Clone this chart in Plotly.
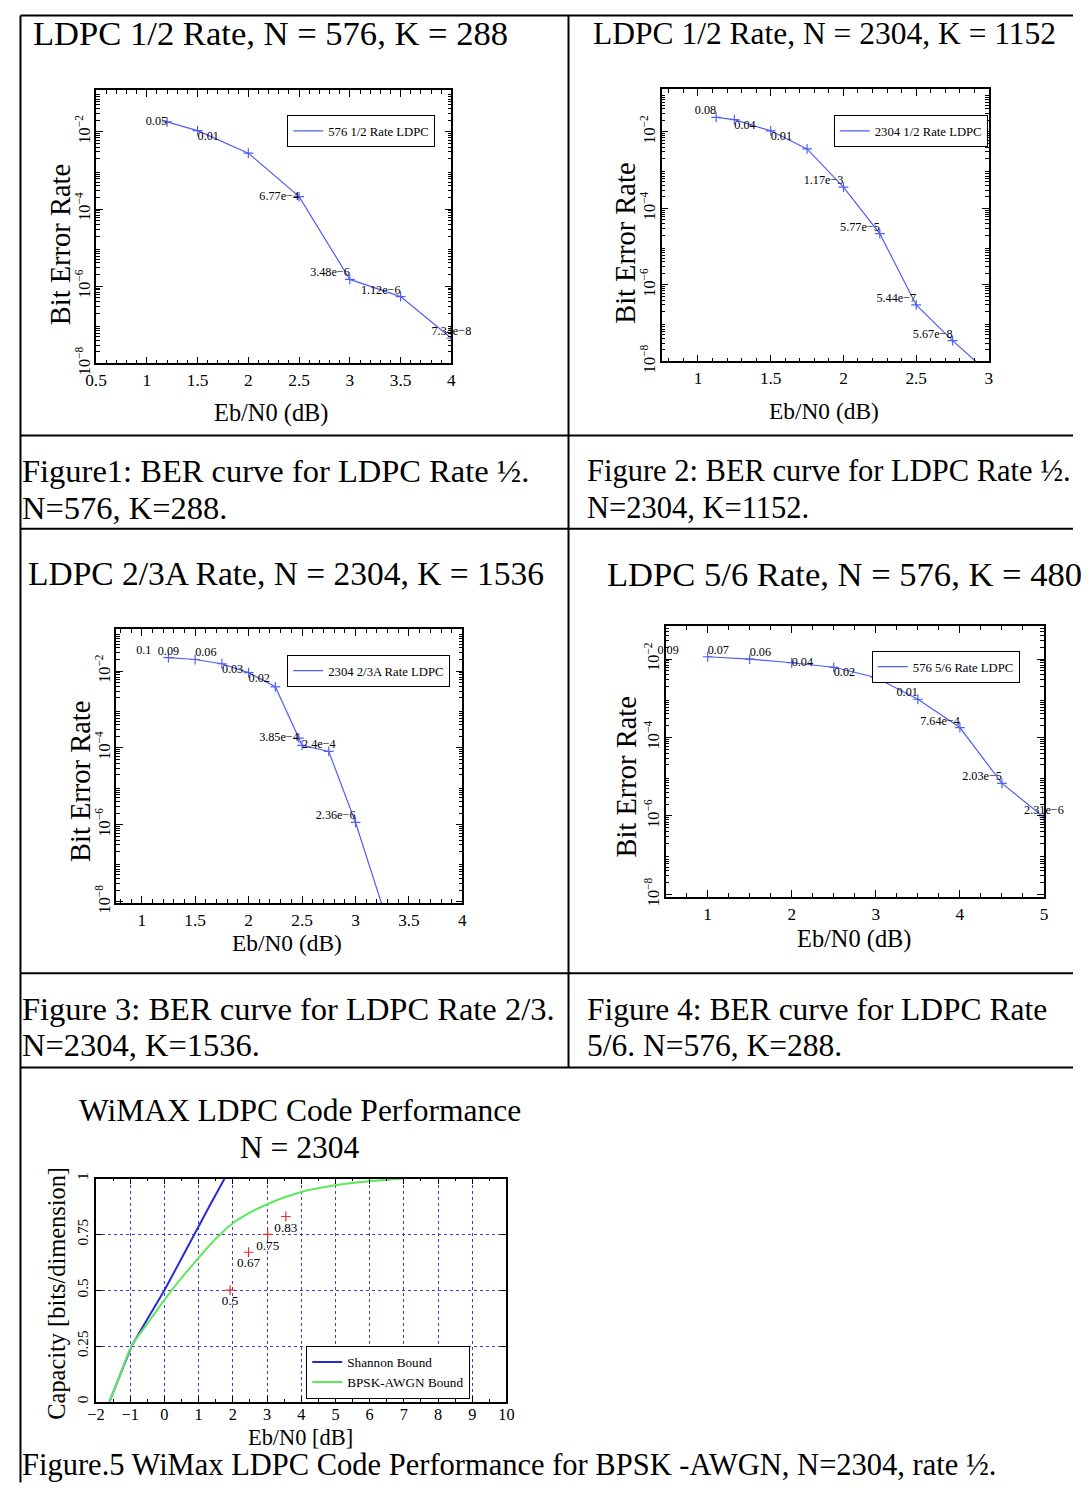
import plotly.graph_objects as go

W, H = 1089, 1504            # reference canvas (pixels)
FW, FH = 1073, 1488          # plotly figure size
# measured placement of the figure inside the photographed page
AX, SX = 19.05, 0.9813
AY, SY = 14.0, 0.9866
FS = 1.0 / ((SX + SY) / 2)   # font compensation
SERIF = "Liberation Serif, Times New Roman, serif"

# ---------------- data ----------------
# Figure 1: LDPC 1/2, N=576
f1_ebn0 = [1.2, 1.5, 2.0, 2.5, 3.0, 3.5, 4.0]
f1_ber = [1.8e-2, 1.07e-2, 2.8e-3, 2.1e-4, 1.5e-6, 5.4e-7, 4.5e-8]
f1_labels = ["0.05", "0.01", "", "6.77e−4", "3.48e−6", "1.12e−6", "7.34e−8"]

# Figure 2: LDPC 1/2, N=2304
f2_ebn0 = [1.125, 1.25, 1.5, 1.75, 2.0, 2.25, 2.5, 2.75, 3.0]
f2_ber = [2.4e-2, 2.1e-2, 1.07e-2, 3.6e-3, 3.6e-4, 2.2e-5, 3.0e-7, 3.5e-8, 5.0e-9]
f2_labels = ["0.08", "0.04", "0.01", "", "1.17e−3", "5.77e−5", "5.44e−7", "5.67e−8", ""]

# Figure 3: LDPC 2/3A, N=2304
f3_ebn0 = [1.25, 1.5, 1.75, 2.0, 2.25, 2.47, 2.5, 2.75, 3.0, 3.25]
f3_ber = [2.24e-2, 2.0e-2, 1.55e-2, 9.1e-3, 3.9e-3, 1.8e-4, 1.17e-4, 8.1e-5, 1.15e-6, 7.9e-9]
f3_labels = ["0.09", "0.06", "0.03", "0.02", "", "3.85e−4", "2.4e−4", "", "2.36e−6", ""]
f3_extra_x = [1.02]
f3_extra_y = [3.3e-2]
f3_extra_label = ["0.1"]

# Figure 4: LDPC 5/6, N=576
f4_ebn0 = [1.0, 1.5, 2.0, 2.5, 3.0, 3.5, 4.0, 4.5, 5.0]
f4_ber = [1.15e-2, 1.0e-2, 8.1e-3, 6.2e-3, 3.4e-3, 9.5e-4, 1.8e-4, 6.8e-6, 9.3e-7]
f4_labels = ["0.07", "0.06", "0.04", "0.02", "", "0.01", "7.64e−4", "2.03e−5", "2.31e−6"]
f4_extra_x = [0.53]
f4_extra_y = [1.6e-2]
f4_extra_label = ["0.09"]

# Figure 5: WiMAX capacity
shannon_ebn0 = [-1.61, -1.4, -1.2, -0.96, -0.48, 0.0, 0.44, 0.87, 1.31, 1.76]
shannon_cap = [0.0, 0.08, 0.16, 0.25, 0.375, 0.5, 0.625, 0.75, 0.875, 1.0]
bpsk_ebn0 = [-1.61, -1.3, -0.96, -0.5, 0.0, 0.5, 1.0, 1.5, 2.0, 3.0, 4.0, 5.0, 6.0, 7.0]
bpsk_cap = [0.0, 0.12, 0.25, 0.35, 0.457, 0.555, 0.645, 0.73, 0.80, 0.885, 0.94, 0.97, 0.988, 1.0]
rate_ebn0 = [1.92, 2.46, 3.02, 3.55]
rate_cap = [0.5, 0.67, 0.75, 0.83]
rate_labels = ["0.5", "0.67", "0.75", "0.83"]

log_tickvals = [1e-8, 1e-6, 1e-4, 1e-2]
log_ticktext = ["10<sup>−8</sup>", "10<sup>−6</sup>", "10<sup>−4</sup>", "10<sup>−2</sup>"]
cap_x_ticks = [-2, -1, 0, 1, 2, 3, 4, 5, 6, 7, 8, 9, 10]
cap_x_text = ["−2", "−1", "0", "1", "2", "3", "4", "5", "6", "7", "8", "9", "10"]
cap_y_ticks = [0, 0.25, 0.5, 0.75, 1]
cap_y_text = ["0", "0.25", "0.5", "0.75", "1"]

# ---------------- helpers (reference pixels -> paper) ----------------
EDGE_X = 1.5 / FW
EDGE_Y = 1.5 / FH

def px(x):
    return min(max(((x - AX) / SX) / FW, EDGE_X), 1.0)

def py(y):
    return min(max(1 - ((y - AY) / SY) / FH, EDGE_Y), 1.0 - EDGE_Y)

def dx(l, r):
    return [px(l), px(r)]

def dy(t, b):
    return [py(b), py(t)]

def fs(size):
    return round(size * FS, 1)

BER_COLOR = "#4f5ff5"
minor_log = [k * 10 ** n for n in range(-9, 0) for k in range(2, 10)]

fig = go.Figure()
annotations = []

def add_text(x, y, text, size, anchor="left", angle=0, yanchor="middle"):
    annotations.append(dict(
        x=px(x), y=py(y), xref="paper", yref="paper", text=text, showarrow=False,
        xanchor=anchor, yanchor=yanchor, textangle=angle,
        font=dict(family=SERIF, size=fs(size), color="black")))

panels = [
    dict(i=1, x=f1_ebn0, y=f1_ber, lab=f1_labels,
         pos=["middle left", "bottom right", "top left", "middle left", "top left", "top left", "top center"],
         name="576 1/2 Rate LDPC", box=(96, 451, 90, 363), xr=[0.5, 4], yr=[-8, -0.92],
         xt=[0.5, 1, 1.5, 2, 2.5, 3, 3.5, 4], xm=0.1, leg=(287, 131),
         xtitle=(271, 412, 24), ytitle=(60, 244, 28)),
    dict(i=2, x=f2_ebn0, y=f2_ber, lab=f2_labels,
         pos=["top left", "bottom right", "bottom right", "top left", "top left", "top left", "top left", "top left", "top left"],
         name="2304 1/2 Rate LDPC", box=(661, 988, 89, 361), xr=[0.75, 3], yr=[-8, -0.88],
         xt=[1, 1.5, 2, 2.5, 3], xm=0.1, leg=(833, 131),
         xtitle=(823, 410, 23), ytitle=(625, 243, 28)),
    dict(i=3, x=f3_ebn0, y=f3_ber, lab=f3_labels,
         pos=["top center", "top right", "bottom right", "bottom right", "top left", "middle left", "middle right", "top left", "top left", "top left"],
         name="2304 2/3A Rate LDPC", box=(116, 462, 628, 902), xr=[0.76, 4], yr=[-8.04, -0.9],
         xt=[1, 1.5, 2, 2.5, 3, 3.5, 4], xm=0.1, leg=(287, 670),
         ex=(f3_extra_x, f3_extra_y, f3_extra_label),
         xtitle=(287, 942, 23), ytitle=(80, 781, 28)),
    dict(i=4, x=f4_ebn0, y=f4_ber, lab=f4_labels,
         pos=["top right", "top right", "middle right", "bottom right", "top left", "top left", "top left", "top left", "top center"],
         name="576 5/6 Rate LDPC", box=(665, 1043, 625, 896), xr=[0.5, 5], yr=[-8.07, -1.15],
         xt=[1, 2, 3, 4, 5], xm=0.25, leg=(871, 666),
         ex=(f4_extra_x, f4_extra_y, f4_extra_label),
         xtitle=(854, 938, 24), ytitle=(625, 776, 28)),
]

layout_axes = {}
for p in panels:
    i = p["i"]
    xa = "x" if i == 1 else f"x{i}"
    ya = "y" if i == 1 else f"y{i}"
    lg = "legend" if i == 1 else f"legend{i}"
    fig.add_trace(go.Scatter(
        x=p["x"], y=p["y"], mode="lines", name=p["name"],
        line=dict(color=BER_COLOR, width=1.2),
        xaxis=xa, yaxis=ya, legend=lg, showlegend=True))
    fig.add_trace(go.Scatter(
        x=p["x"], y=p["y"], mode="markers", showlegend=False,
        marker=dict(symbol="cross-thin", size=7, line=dict(color=BER_COLOR, width=1.2)),
        xaxis=xa, yaxis=ya, hoverinfo="skip"))
    keep = [k for k, t in enumerate(p["lab"]) if t]
    fig.add_trace(go.Scatter(
        x=[p["x"][k] for k in keep], y=[p["y"][k] for k in keep],
        mode="text", text=[p["lab"][k] for k in keep],
        textposition=[p["pos"][k] for k in keep],
        textfont=dict(family=SERIF, size=fs(12), color="black"),
        xaxis=xa, yaxis=ya, showlegend=False, cliponaxis=False, hoverinfo="skip"))
    if "ex" in p:
        ex_x, ex_y, ex_l = p["ex"]
        fig.add_trace(go.Scatter(
            x=ex_x, y=ex_y, mode="text", text=ex_l, textposition="middle center",
            textfont=dict(family=SERIF, size=fs(12), color="black"),
            xaxis=xa, yaxis=ya, showlegend=False, cliponaxis=False, hoverinfo="skip"))
    l, r, t, b = p["box"]
    xkey = "xaxis" if i == 1 else f"xaxis{i}"
    ykey = "yaxis" if i == 1 else f"yaxis{i}"
    layout_axes[xkey] = dict(
        domain=dx(l, r), anchor=ya, range=p["xr"], tickmode="array", tickvals=p["xt"],
        ticks="inside", ticklen=7, tickwidth=1, tickcolor="black",
        minor=dict(ticks="inside", ticklen=4, dtick=p["xm"], tickcolor="black"),
        showline=True, linecolor="black", linewidth=1.5, mirror="ticks",
        showgrid=False, zeroline=False,
        tickfont=dict(family=SERIF, size=fs(17), color="black"))
    layout_axes[ykey] = dict(
        domain=dy(t, b), anchor=xa, type="log", range=p["yr"], tickmode="array",
        tickvals=log_tickvals, ticktext=log_ticktext, tickangle=-90,
        ticks="inside", ticklen=7, tickwidth=1, tickcolor="black",
        minor=dict(ticks="inside", ticklen=4, tickvals=minor_log, tickcolor="black"),
        showline=True, linecolor="black", linewidth=1.5, mirror="ticks",
        showgrid=False, zeroline=False, ticklabelstandoff=-2,
        tickfont=dict(family=SERIF, size=fs(16), color="black"))
    lx, ly = p["leg"]
    layout_axes[lg] = dict(
        x=px(lx), y=py(ly), xanchor="left", yanchor="middle",
        bgcolor="white", bordercolor="black", borderwidth=1,
        font=dict(family=SERIF, size=fs(12.5), color="black"),
        itemwidth=30, tracegroupgap=0)
    tx, ty, ts = p["xtitle"]
    add_text(tx, ty, "Eb/N0 (dB)", ts, "center")
    yx, yy, ys = p["ytitle"]
    add_text(yx, yy, "Bit Error Rate", ys, "center", -90)

# ---- Figure 5 ----
fig.add_trace(go.Scatter(
    x=shannon_ebn0, y=shannon_cap, mode="lines", name="Shannon Bound",
    line=dict(color="#2a2ad8", width=2),
    xaxis="x5", yaxis="y5", legend="legend5"))
fig.add_trace(go.Scatter(
    x=bpsk_ebn0, y=bpsk_cap, mode="lines", name="BPSK-AWGN Bound",
    line=dict(color="#5ee85e", width=2, shape="spline", smoothing=0.8),
    xaxis="x5", yaxis="y5", legend="legend5"))
fig.add_trace(go.Scatter(
    x=rate_ebn0, y=rate_cap, mode="markers+text", text=rate_labels,
    textposition="bottom center", showlegend=False,
    marker=dict(symbol="cross-thin", size=7, line=dict(color="#e03030", width=1.2)),
    textfont=dict(family=SERIF, size=fs(13), color="black"),
    xaxis="x5", yaxis="y5", cliponaxis=False))

layout_axes["xaxis5"] = dict(
    domain=dx(96, 506), anchor="y5", range=[-2, 10], tickmode="array",
    tickvals=cap_x_ticks, ticktext=cap_x_text,
    ticks="inside", ticklen=6, tickcolor="black",
    minor=dict(ticks="inside", ticklen=3, dtick=0.5, tickcolor="black", showgrid=False),
    showline=True, linecolor="black", linewidth=1.5, mirror="ticks",
    showgrid=True, gridcolor="#3c3cd0", griddash="dot", gridwidth=1, zeroline=False,
    ticklabelstandoff=-3,
    tickfont=dict(family=SERIF, size=fs(16), color="black"))
layout_axes["yaxis5"] = dict(
    domain=dy(1177, 1400), anchor="x5", range=[0, 1], tickmode="array",
    tickvals=cap_y_ticks, ticktext=cap_y_text, tickangle=-90,
    ticks="inside", ticklen=6, tickcolor="black",
    showline=True, linecolor="black", linewidth=1.5, mirror="ticks",
    showgrid=True, gridcolor="#3c3cd0", griddash="dot", gridwidth=1, zeroline=False,
    tickfont=dict(family=SERIF, size=fs(15), color="black"))
layout_axes["legend5"] = dict(
    x=px(306), y=py(1397), xanchor="left", yanchor="bottom",
    bgcolor="white", bordercolor="black", borderwidth=1,
    font=dict(family=SERIF, size=fs(13), color="black"),
    itemwidth=30, tracegroupgap=0)
add_text(300, 1436, "Eb/N0 [dB]", 22, "center")
add_text(57, 1291, "Capacity [bits/dimension]", 24, "center", -90)

# ---------------- titles & captions ----------------
add_text(270, 33, "LDPC 1/2 Rate, N = 576, K = 288", 34, "center")
add_text(824, 33, "LDPC 1/2 Rate, N = 2304, K = 1152", 31, "center")
add_text(286, 573, "LDPC 2/3A Rate, N = 2304, K = 1536", 33, "center")
add_text(604, 573, "LDPC 5/6 Rate, N = 576, K = 480", 34, "left")
add_text(300, 1109, "WiMAX LDPC Code Performance", 31, "center")
add_text(300, 1146, "N = 2304", 31, "center")

add_text(20, 470, "Figure1: BER curve for LDPC Rate ½.", 32)
add_text(20, 507, "N=576, K=288.", 32)
add_text(584, 470, "Figure 2: BER curve for LDPC Rate ½.", 30)
add_text(584, 507, "N=2304, K=1152.", 30)
add_text(20, 1008, "Figure 3: BER curve for LDPC Rate 2/3.", 32)
add_text(20, 1044, "N=2304, K=1536.", 32)
add_text(584, 1008, "Figure 4: BER curve for LDPC Rate", 31)
add_text(584, 1044, "5/6. N=576, K=288.", 31)
annotations.append(dict(
    x=px(20), y=0, xref="paper", yref="paper", showarrow=False,
    text="Figure.5 WiMax LDPC Code Performance for BPSK -AWGN, N=2304, rate ½.",
    xanchor="left", yanchor="bottom", font=dict(family=SERIF, size=fs(30), color="black")))

# ---------------- table lines (kept inside the figure) ----------------
shapes = []

def hline(y, x0=8, x1=W):
    shapes.append(dict(type="line", xref="paper", yref="paper", x0=px(x0), x1=px(x1),
                       y0=py(y), y1=py(y), line=dict(color="black", width=2)))

def vline(x, y0, y1):
    shapes.append(dict(type="line", xref="paper", yref="paper", x0=px(x), x1=px(x),
                       y0=py(y0), y1=py(y1), line=dict(color="black", width=2)))

hline(3)
hline(435)
hline(528)
hline(972)
hline(1066)
vline(8, 3, H)
vline(568, 3, 1066)

fig.update_layout(
    width=FW, height=FH, margin=dict(l=0, r=0, t=0, b=0),
    paper_bgcolor="white", plot_bgcolor="white",
    annotations=annotations, shapes=shapes, showlegend=True,
    **layout_axes)

fig.write_html("out.html", config={"displayModeBar": False})
